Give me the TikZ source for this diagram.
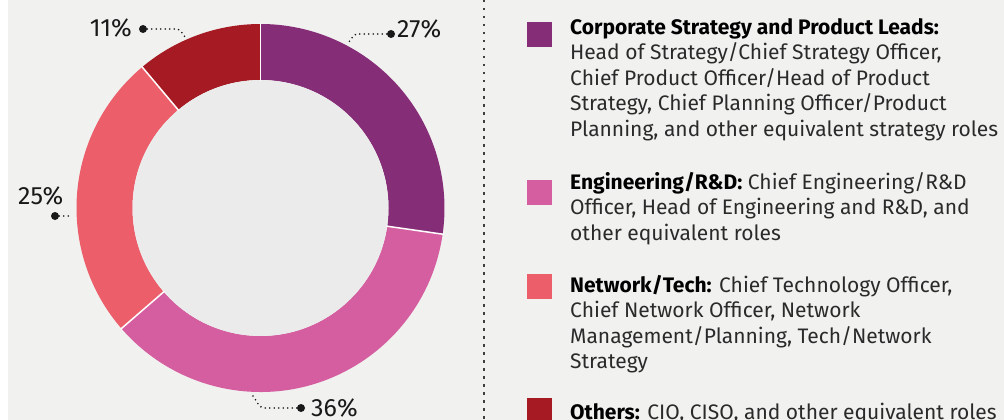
\documentclass[tikz,border=0pt]{standalone}
\usepackage{fontspec}
\setmainfont{Fira Sans}
\usetikzlibrary{positioning}

\definecolor{bgGray}{HTML}{F1F1EF}
\definecolor{holeGray}{HTML}{EBEBEB}
\definecolor{stratPurple}{HTML}{862D78}
\definecolor{engPink}{HTML}{D55EA0}
\definecolor{netCoral}{HTML}{EC5F6A}
\definecolor{otherRed}{HTML}{A51A23}
\definecolor{inkGray}{HTML}{2A2A2A}

\begin{document}
\begin{tikzpicture}[x=1pt, y=1pt,
  leader/.style={draw=black!90, line width=1.8pt, dash pattern=on 0pt off 4.5pt, line cap=round},
  pctdot/.style={circle, fill=black!90, inner sep=0pt, minimum size=8pt},
  pct/.style={font=\fontsize{25}{25}\selectfont, text=black!90, inner sep=0pt},
  keybox/.style={fill=#1, minimum size=25pt, inner sep=0pt, anchor=north west},
  keytext/.style={font=\fontsize{21}{25.5}\selectfont, text=inkGray, align=left, inner sep=0pt, anchor=base west}]

\useasboundingbox (0,0) rectangle (1004,-420);
\fill[white] (0,0) rectangle (8,-420);
\fill[bgGray] (8,0) rectangle (1004,-420);

% donut
\coordinate (c) at (260.5,-208);
\fill[stratPurple] ([shift={(90:184)}]c) arc[start angle=90, end angle=-8.18, radius=184] -- ([shift={(-8.18:128)}]c) arc[start angle=-8.18, end angle=90, radius=128] -- cycle;
\fill[engPink] ([shift={(-8.18:184)}]c) arc[start angle=-8.18, end angle=-139.09, radius=184] -- ([shift={(-139.09:128)}]c) arc[start angle=-139.09, end angle=-8.18, radius=128] -- cycle;
\fill[netCoral] ([shift={(-139.09:184)}]c) arc[start angle=-139.09, end angle=-230, radius=184] -- ([shift={(-230:128)}]c) arc[start angle=-230, end angle=-139.09, radius=128] -- cycle;
\fill[otherRed] ([shift={(-230:184)}]c) arc[start angle=-230, end angle=-270, radius=184] -- ([shift={(-270:128)}]c) arc[start angle=-270, end angle=-230, radius=128] -- cycle;
\fill[holeGray] (c) circle[radius=128];
\draw[white, line width=1.5pt] ([shift={(90:127)}]c) -- ([shift={(90:185)}]c);
\draw[white, line width=1.5pt] ([shift={(-8.18:127)}]c) -- ([shift={(-8.18:185)}]c);
\draw[white, line width=1.5pt] ([shift={(-139.09:127)}]c) -- ([shift={(-139.09:185)}]c);
\draw[white, line width=1.5pt] ([shift={(-230:127)}]c) -- ([shift={(-230:185)}]c);

% percentage labels
\node[pctdot] (d27) at (391,-34) {};
\node[pct, anchor=base west] (l27) at (397,-38) {27\%};
\coordinate (k27) at (358,-34);
\coordinate (r27) at (349,-42);
\draw[leader] (d27) -- (k27) to[out=180, in=50] (r27);

\node[pctdot] (d11) at (143,-29) {};
\node[pct, anchor=base east] (l11) at (132,-37) {11\%};
\coordinate (k11) at (176,-29);
\coordinate (r11) at (185,-37);
\draw[leader] (d11) -- (k11) to[out=0, in=130] (r11);

\node[pctdot] (d25) at (55,-216) {};
\node[pct, anchor=base west] (l25) at (18,-204) {25\%};
\coordinate (r25) at (72,-216);
\draw[leader] (d25) -- (r25);

\node[pctdot] (d36) at (301,-408) {};
\node[pct, anchor=base west] (l36) at (311,-416) {36\%};
\coordinate (k36) at (265,-408);
\coordinate (r36) at (253,-396);
\draw[leader] (d36) -- (k36) to[out=180, in=-50] (r36);

% separator
\coordinate (s1) at (484,0);
\coordinate (s2) at (484,-420);
\draw[black!75, line width=1.6pt, dash pattern=on 2.5pt off 5.5pt] (s1) -- (s2);

% legend (anchored at the baseline of the last line)
\node[keybox=stratPurple] (k1) at (527,-22) {};
\node[keybox=engPink] (k2) at (527,-180) {};
\node[keybox=netCoral] (k3) at (527,-274) {};
\node[keybox=otherRed] (k4) at (527,-398) {};

\node[keytext] (t1) at (570,-136) {\textbf{\color{black}Corporate Strategy and Product Leads:}\\Head of Strategy/Chief Strategy Officer,\\Chief Product Officer/Head of Product\\Strategy, Chief Planning Officer/Product\\Planning, and other equivalent strategy roles};
\node[keytext] (t2) at (570,-240) {\textbf{\color{black}Engineering/R\&D:} Chief Engineering/R\&D\\Officer, Head of Engineering and R\&D, and\\other equivalent roles};
\node[keytext] (t3) at (570,-368.5) {\textbf{\color{black}Network/Tech:} Chief Technology Officer,\\Chief Network Officer, Network\\Management/Planning, Tech/Network\\Strategy};
\node[keytext] (t4) at (570,-419) {\textbf{\color{black}Others:} CIO, CISO, and other equivalent roles};
\end{tikzpicture}
\end{document}
